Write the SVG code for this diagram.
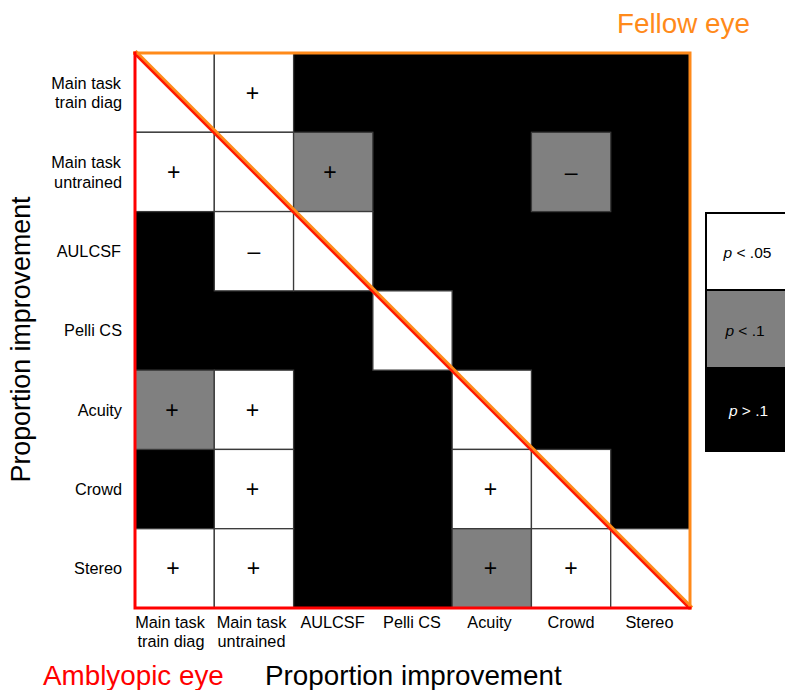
<svg xmlns="http://www.w3.org/2000/svg" width="785" height="690" viewBox="0 0 785 690">
<style>
text{font-family:"Liberation Sans",Arial,Helvetica,sans-serif;fill:#000}
.w{fill:#fff;stroke:#3a3a3a;stroke-width:1.3}
.g{fill:#808080;stroke:#3a3a3a;stroke-width:1.3}
.s{font-size:23px;text-anchor:middle}
.rl{font-size:16.3px;text-anchor:end}
.cl{font-size:16.3px;text-anchor:middle}
.big{font-size:27.8px}
.lg{font-size:15.5px;text-anchor:middle}
</style>
<rect width="785" height="690" fill="#fff"/>
<text class="big" x="617" y="33" style="fill:#ff8a1a">Fellow eye</text>
<text class="big" x="43" y="685" style="fill:#ff0000">Amblyopic eye</text>
<text class="big" x="265" y="685">Proportion improvement</text>
<text class="big" x="0" y="0" text-anchor="middle" transform="translate(30,339.5) rotate(-90)" style="font-size:26.8px">Proportion improvement</text>

<g id="row-labels">
<text class="rl" x="121" y="89">Main task</text>
<text class="rl" x="122" y="108">train diag</text>
<text class="rl" x="121" y="168">Main task</text>
<text class="rl" x="122" y="188">untrained</text>
<text class="rl" x="121" y="257">AULCSF</text>
<text class="rl" x="122" y="336">Pelli CS</text>
<text class="rl" x="122" y="415.5">Acuity</text>
<text class="rl" x="122" y="494.5">Crowd</text>
<text class="rl" x="122" y="574">Stereo</text>
</g>
<g id="col-labels">
<text class="cl" x="170" y="628">Main task</text>
<text class="cl" x="171" y="647">train diag</text>
<text class="cl" x="251.5" y="628">Main task</text>
<text class="cl" x="251.5" y="647">untrained</text>
<text class="cl" x="332.5" y="628">AULCSF</text>
<text class="cl" x="412" y="628">Pelli CS</text>
<text class="cl" x="489.5" y="628">Acuity</text>
<text class="cl" x="571" y="628">Crowd</text>
<text class="cl" x="649.5" y="628">Stereo</text>
</g>

<g id="matrix">
<rect x="135" y="53" width="555" height="555" fill="#000"/>
<g id="r0c0"><rect class="w" x="135" y="53" width="79.29" height="79.29"/></g>
<g id="r0c1"><rect class="w" x="214.29" y="53" width="79.29" height="79.29"/><text class="s" x="252.5" y="100.5">+</text></g>
<g id="r1c0"><rect class="w" x="135" y="132.29" width="79.29" height="79.29"/><text class="s" x="173.6" y="179.8">+</text></g>
<g id="r1c1"><rect class="w" x="214.29" y="132.29" width="79.29" height="79.29"/></g>
<g id="r1c2"><rect class="g" x="293.57" y="132.29" width="79.29" height="79.29"/><text class="s" x="330" y="179.8">+</text></g>
<g id="r1c5"><rect class="g" x="531.43" y="132.29" width="79.29" height="79.29"/><text class="s" x="571.07" y="179.8">–</text></g>
<g id="r2c1"><rect class="w" x="214.29" y="211.57" width="79.29" height="79.29"/><text class="s" x="253.93" y="259">–</text></g>
<g id="r2c2"><rect class="w" x="293.57" y="211.57" width="79.29" height="79.29"/></g>
<g id="r3c3"><rect class="w" x="372.86" y="290.86" width="79.29" height="79.29"/></g>
<g id="r4c0"><rect class="g" x="135" y="370.14" width="79.29" height="79.29"/><text class="s" x="172" y="417.6">+</text></g>
<g id="r4c1"><rect class="w" x="214.29" y="370.14" width="79.29" height="79.29"/><text class="s" x="252.5" y="417.6">+</text></g>
<g id="r4c4"><rect class="w" x="452.14" y="370.14" width="79.29" height="79.29"/></g>
<g id="r5c1"><rect class="w" x="214.29" y="449.43" width="79.29" height="79.29"/><text class="s" x="252.5" y="496.9">+</text></g>
<g id="r5c4"><rect class="w" x="452.14" y="449.43" width="79.29" height="79.29"/><text class="s" x="490.5" y="496.9">+</text></g>
<g id="r5c5"><rect class="w" x="531.43" y="449.43" width="79.29" height="79.29"/></g>
<g id="r6c0"><rect class="w" x="135" y="528.71" width="79.29" height="79.29"/><text class="s" x="173" y="576.2">+</text></g>
<g id="r6c1"><rect class="w" x="214.29" y="528.71" width="79.29" height="79.29"/><text class="s" x="253.5" y="576.2">+</text></g>
<g id="r6c4"><rect class="g" x="452.14" y="528.71" width="79.29" height="79.29"/><text class="s" x="490.5" y="576.2">+</text></g>
<g id="r6c5"><rect class="w" x="531.43" y="528.71" width="79.29" height="79.29"/><text class="s" x="571" y="576.2">+</text></g>
<g id="r6c6"><rect class="w" x="610.71" y="528.71" width="79.29" height="79.29"/></g>
</g>

<g id="connectors" fill="none" stroke-linecap="square">
<line x1="136.5" y1="52" x2="691" y2="606.5" stroke="#ff8a1a" stroke-width="3"/>
<line x1="135" y1="54" x2="689" y2="608" stroke="#ff1a00" stroke-width="2.6"/>
<polyline points="134.5,53 690,53 690,608" stroke="#ff8a1a" stroke-width="3"/>
<polyline points="135,53 135,608 690,608" stroke="#ff0000" stroke-width="3"/>
</g>

<g id="legend">
<rect x="706" y="213" width="90" height="77" fill="#fff" stroke="#000" stroke-width="2"/>
<rect x="706" y="290" width="90" height="78" fill="#808080" stroke="#000" stroke-width="2"/>
<rect x="706" y="368" width="90" height="83" fill="#000" stroke="#000" stroke-width="2"/>
<text class="lg" x="747.5" y="257.5"><tspan font-style="italic">p</tspan> &lt; .05</text>
<text class="lg" x="745" y="335.5"><tspan font-style="italic">p</tspan> &lt; .1</text>
<text class="lg" x="748.5" y="415.5" style="fill:#fff"><tspan font-style="italic">p</tspan> &gt; .1</text>
</g>
</svg>
